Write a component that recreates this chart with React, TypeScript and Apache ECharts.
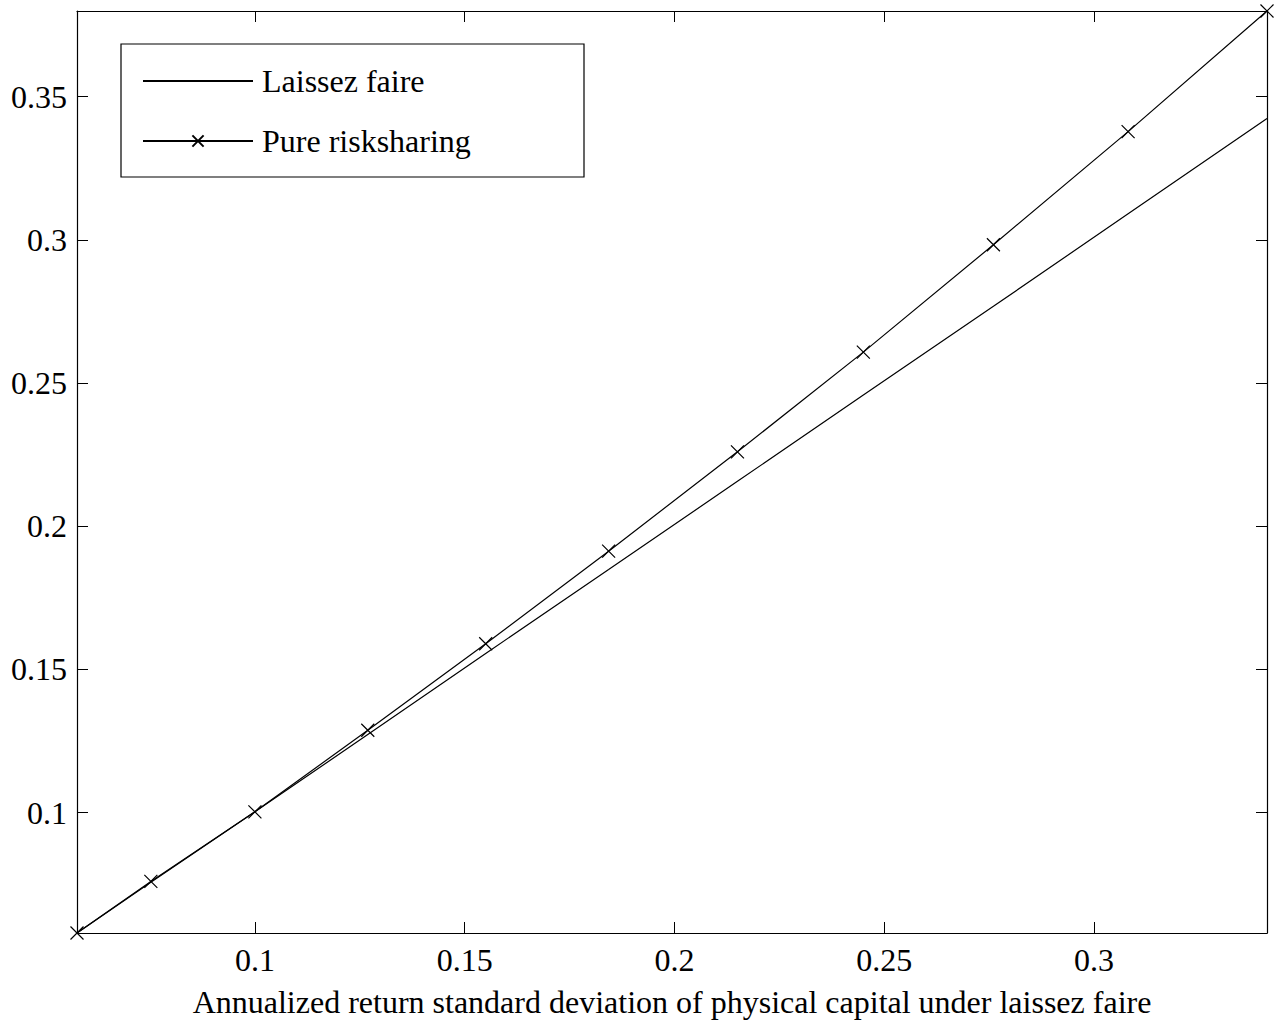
import React, { useEffect, useRef } from "react";
import * as echarts from "echarts";

const xValues = [0.0576, 0.0752, 0.1, 0.1269, 0.155, 0.1843, 0.215, 0.245, 0.276, 0.3081, 0.3412];
const laissezFaire = [0.058, 0.0757, 0.1003, 0.1273, 0.1556, 0.1849, 0.2157, 0.2458, 0.2768, 0.3091, 0.3424];
const pureRisksharing = [0.058, 0.076, 0.1003, 0.1288, 0.159, 0.1913, 0.226, 0.2608, 0.2983, 0.3378, 0.3799];
const xTicks = [0.1, 0.15, 0.2, 0.25, 0.3];
const yTicks = [0.1, 0.15, 0.2, 0.25, 0.3, 0.35];
const xRange = [0.0576, 0.3412];
const yRange = [0.058, 0.3799];
const seriesNames = ["Laissez faire", "Pure risksharing"];
const xAxisTitle = "Annualized return standard deviation of physical capital under laissez faire";

const FONT = "'Liberation Serif', 'Times New Roman', serif";

export default function App() {
  const ref = useRef<HTMLDivElement>(null);
  useEffect(() => {
    if (!ref.current) return;
    const chart = echarts.init(ref.current, undefined, { renderer: "svg" });
    const tickCommon = {
      show: true,
      inside: true,
      length: 11,
      lineStyle: { color: "#000", width: 1 },
    };
    const labelStyle = { color: "#000", fontSize: 32, fontFamily: FONT };
    const crossSymbol = "path://M0,0L12,12M12,0L0,12";
    const option: any = {
      animation: false,
      backgroundColor: "#fff",
      grid: { left: 77, top: 11, right: 14, bottom: 86, containLabel: false },
      legend: {
        orient: "vertical",
        left: 142,
        top: 65,
        padding: 0,
        itemWidth: 110,
        itemHeight: 14,
        itemGap: 28,
        textStyle: { color: "#000", fontSize: 32, fontFamily: FONT, lineHeight: 32, padding: [0, 0, 0, 4] },
        data: [
          { name: seriesNames[0], itemStyle: { opacity: 0 } },
          { name: seriesNames[1] },
        ],
        selectedMode: false,
      },
      graphic: [
        {
          type: "rect",
          shape: { x: 121, y: 44, width: 463, height: 133 },
          style: { fill: "none", stroke: "#000", lineWidth: 1.2 },
          z: 10,
        },
      ],
      xAxis: [
        {
          type: "value",
          min: xRange[0],
          max: xRange[1],
          position: "bottom",
          name: xAxisTitle,
          nameLocation: "middle",
          nameGap: 53,
          nameTextStyle: labelStyle,
          axisLine: { show: true, lineStyle: { color: "#000", width: 1.2 } },
          axisTick: { ...tickCommon, customValues: xTicks },
          axisLabel: { ...labelStyle, margin: 11, customValues: xTicks, formatter: (v: number) => String(v) },
          splitLine: { show: false },
        },
        {
          type: "value",
          min: xRange[0],
          max: xRange[1],
          position: "top",
          axisLine: { show: true, lineStyle: { color: "#000", width: 1.2 } },
          axisTick: { ...tickCommon, customValues: xTicks },
          axisLabel: { show: false },
          splitLine: { show: false },
        },
      ],
      yAxis: [
        {
          type: "value",
          min: yRange[0],
          max: yRange[1],
          position: "left",
          axisLine: { show: true, lineStyle: { color: "#000", width: 1.2 } },
          axisTick: { ...tickCommon, customValues: yTicks },
          axisLabel: { ...labelStyle, margin: 10, customValues: yTicks, formatter: (v: number) => String(v) },
          splitLine: { show: false },
        },
        {
          type: "value",
          min: yRange[0],
          max: yRange[1],
          position: "right",
          axisLine: { show: true, lineStyle: { color: "#000", width: 1.2 } },
          axisTick: { ...tickCommon, customValues: yTicks },
          axisLabel: { show: false },
          splitLine: { show: false },
        },
      ],
      series: [
        {
          name: seriesNames[0],
          type: "line",
          xAxisIndex: 0,
          yAxisIndex: 0,
          data: xValues.map((x, i) => [x, laissezFaire[i]]),
          showSymbol: false,
          symbol: "none",
          clip: false,
          lineStyle: { color: "#000", width: 1.2 },
          itemStyle: { color: "#000" },
        },
        {
          name: seriesNames[1],
          type: "line",
          xAxisIndex: 0,
          yAxisIndex: 0,
          data: xValues.map((x, i) => [x, pureRisksharing[i]]),
          symbol: crossSymbol,
          symbolSize: 13,
          clip: false,
          lineStyle: { color: "#000", width: 1.2 },
          itemStyle: { color: "none", borderColor: "#000", borderWidth: 1.2 },
        },
      ],
    };
    chart.setOption(option);
    return () => chart.dispose();
  }, []);
  return (
    <div
      ref={ref}
      style={{ position: "fixed", left: 0, top: 0, width: 1281, height: 1023, background: "#fff" }}
    />
  );
}
